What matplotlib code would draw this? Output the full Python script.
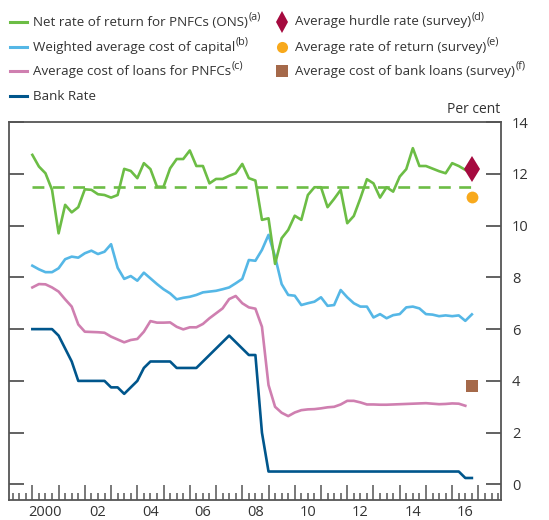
import numpy as np
import matplotlib
matplotlib.use('Agg')
import matplotlib.pyplot as plt
from matplotlib.lines import Line2D
from matplotlib.ticker import MultipleLocator
import matplotlib.transforms as mtransforms

plt.rcParams['font.family'] = ['Open Sans', 'DejaVu Sans']

# quarterly data, first point 2000 Q1
start_year = 2000.0

net_return = [12.73, 12.28, 12.02, 11.38, 9.70, 10.8, 10.51, 10.71, 11.40, 11.38,
              11.21, 11.18, 11.08, 11.18, 12.19, 12.11, 11.83, 12.41, 12.18, 11.5,
              11.5, 12.21, 12.57, 12.57, 12.9, 12.3, 12.3, 11.63, 11.8, 11.8,
              11.92, 12.02, 12.38, 11.83, 11.74, 10.22, 10.28, 8.52, 9.51, 9.83,
              10.38, 10.22, 11.18, 11.48, 11.48, 10.71, 11.03, 11.38, 10.09, 10.37,
              11.05, 11.79, 11.63, 11.08, 11.48, 11.31, 11.89, 12.18, 12.99, 12.3,
              12.3, 12.2, 12.1, 12.02, 12.41, 12.3, 12.15]

wacc = [8.45, 8.31, 8.2, 8.2, 8.35, 8.7, 8.8, 8.76, 8.93, 9.03,
        8.9, 8.99, 9.28, 8.37, 7.94, 8.05, 7.87, 8.18, 7.96, 7.74,
        7.54, 7.38, 7.15, 7.21, 7.25, 7.32, 7.42, 7.45, 7.48, 7.54,
        7.61, 7.77, 7.94, 8.67, 8.64, 9.06, 9.64, 8.8, 7.74, 7.32,
        7.29, 6.93, 7.0, 7.06, 7.23, 6.9, 6.93, 7.51, 7.23, 7.0,
        6.87, 6.87, 6.45, 6.58, 6.42, 6.54, 6.58, 6.84, 6.87, 6.8,
        6.58, 6.56, 6.5, 6.53, 6.5, 6.53, 6.32, 6.57]

loan_cost = [7.61, 7.74, 7.73, 7.61, 7.45, 7.15, 6.87, 6.18, 5.9, 5.89,
             5.88, 5.86, 5.71, 5.6, 5.49, 5.58, 5.62, 5.9, 6.31, 6.25,
             6.25, 6.26, 6.09, 5.99, 6.07, 6.07, 6.2, 6.42, 6.61, 6.8,
             7.16, 7.28, 7.0, 6.84, 6.79, 6.09, 3.84, 3.0, 2.77, 2.64,
             2.78, 2.87, 2.9, 2.91, 2.94, 2.98, 3.0, 3.09, 3.23, 3.23,
             3.17, 3.09, 3.09, 3.08, 3.08, 3.09, 3.1, 3.11, 3.12, 3.13,
             3.14, 3.12, 3.1, 3.11, 3.13, 3.12, 3.04]

bank_rate = [6.0, 6.0, 6.0, 6.0, 5.75, 5.25, 4.75, 4.0, 4.0, 4.0,
             4.0, 4.0, 3.75, 3.75, 3.5, 3.75, 4.0, 4.5, 4.75, 4.75,
             4.75, 4.75, 4.5, 4.5, 4.5, 4.5, 4.75, 5.0, 5.25, 5.5,
             5.75, 5.5, 5.25, 5.0, 5.0, 2.0, 0.5, 0.5, 0.5, 0.5,
             0.5, 0.5, 0.5, 0.5, 0.5, 0.5, 0.5, 0.5, 0.5, 0.5,
             0.5, 0.5, 0.5, 0.5, 0.5, 0.5, 0.5, 0.5, 0.5, 0.5,
             0.5, 0.5, 0.5, 0.5, 0.5, 0.5, 0.25, 0.25]

net_return_avg = 11.5
avg_period = [2000.0, 2017.0]

survey_x = 2016.75
hurdle_rate = 12.2
survey_return = 11.1
bank_loans_cost = 3.8

year_labels = ['2000', '02', '04', '06', '08', '10', '12', '14', '16']


def quarters(values):
    return start_year + 0.25 * np.arange(len(values))


GREEN = '#6cbd45'
LIGHTBLUE = '#55b7e6'
PINK = '#cf7fb0'
DARKBLUE = '#00568c'
MAROON = '#a50a3f'
ORANGE = '#f8a91c'
BROWN = '#a5694a'
TEXT = '#333333'
SPINE = '#555555'

fig = plt.figure(figsize=(5.49, 5.20), dpi=100)
ax = fig.add_axes([9 / 549, 1 - 500 / 520, 492 / 549, 378 / 520])

lw = 1.9
ax.plot(quarters(bank_rate), bank_rate, color=DARKBLUE, lw=lw)
ax.plot(quarters(loan_cost), loan_cost, color=PINK, lw=lw)
ax.plot(quarters(wacc), wacc, color=LIGHTBLUE, lw=lw)
ax.plot(quarters(net_return), net_return, color=GREEN, lw=lw)
ax.plot(avg_period, [net_return_avg, net_return_avg], color=GREEN, lw=lw,
        dashes=(4.5, 3.2))

ax.plot([survey_x], [hurdle_rate], marker='d', ms=13, mew=0, color=MAROON,
        linestyle='none', clip_on=False)
ax.plot([survey_x], [survey_return], marker='o', ms=8.5, color=ORANGE, mew=0,
        linestyle='none', clip_on=False)
ax.plot([survey_x], [bank_loans_cost], marker='s', ms=9, color=BROWN, mew=0,
        linestyle='none', clip_on=False)

ax.set_xlim(1999.11, 2017.86)
ax.set_ylim(-0.6, 14.0)

for sp in ax.spines.values():
    sp.set_color(SPINE)
    sp.set_linewidth(1.3)

# y axis: ticks inside on both sides, labels on right
ax.set_yticks(np.arange(0, 15, 2))
ax.tick_params(axis='y', direction='in', left=True, right=True, labelleft=False,
               labelright=True, length=11, width=1.3, color=SPINE, pad=8,
               labelsize=10.5, labelcolor=TEXT)

# x axis: year ticks and quarter ticks pointing up
ax.set_xticks(np.arange(2000, 2018, 1))
ax.xaxis.set_minor_locator(MultipleLocator(0.25))
ax.tick_params(axis='x', which='major', direction='in', length=11, width=1.1,
               color=SPINE, labelbottom=False)
ax.tick_params(axis='x', which='minor', direction='in', length=5, width=1.1,
               color=SPINE)

trans = mtransforms.blended_transform_factory(ax.transData, fig.transFigure)
for i, lab in enumerate(year_labels):
    ax.text(2000.5 + 2 * i, 1 - 513 / 520, lab, transform=trans, ha='center',
            va='center', fontsize=10.5, color=TEXT)

ax.text(1.0 - 0.055, 1.012, 'Per cent', transform=ax.transAxes, ha='center',
        va='bottom', fontsize=10, color=TEXT)

# legend built by hand in figure pixels
W, H = 549, 520
fs = 9.6
left_items = [
    (GREEN, 'Net rate of return for PNFCs (ONS)', '(a)'),
    (LIGHTBLUE, 'Weighted average cost of capital', '(b)'),
    (PINK, 'Average cost of loans for PNFCs', '(c)'),
    (DARKBLUE, 'Bank Rate', ''),
]
right_items = [
    ('d', MAROON, 11, 'Average hurdle rate (survey)', '(d)'),
    ('o', ORANGE, 8, 'Average rate of return (survey)', '(e)'),
    ('s', BROWN, 8, 'Average cost of bank loans (survey)', '(f)'),
]
rows = [22, 47, 71, 96]
labels = []
for (c, lab, sup), yy in zip(left_items, rows):
    y = 1 - yy / H
    fig.add_artist(Line2D([10 / W, 27 / W], [y, y], color=c, lw=2.2))
    labels.append((fig.text(33 / W, y, lab, fontsize=fs, color=TEXT, va='center'), sup, y))
for (m, c, ms, lab, sup), yy in zip(right_items, rows):
    y = 1 - yy / H
    fig.add_artist(Line2D([282 / W], [y], marker=m, ms=ms, color=c, mew=0,
                          linestyle='none'))
    labels.append((fig.text(295 / W, y, lab, fontsize=fs, color=TEXT, va='center'), sup, y))

# superscript notes placed right after each label
renderer = fig.canvas.get_renderer()
for t, sup, y in labels:
    if not sup:
        continue
    bb = t.get_window_extent(renderer)
    fig.text(bb.x1 / W + 0.5 / W, y + 5 / H, sup, fontsize=7.8, color=TEXT,
             va='center')

fig.savefig('out.png', dpi=100)
